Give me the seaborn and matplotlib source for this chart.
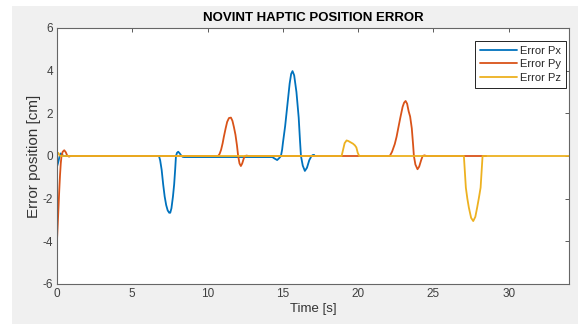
import matplotlib
matplotlib.use("Agg")
import matplotlib.pyplot as plt
from matplotlib.patches import Rectangle
from matplotlib.lines import Line2D
import seaborn as sns
import pandas as pd

# ---- data ----
px_t = [0, 0.08, 0.16, 0.25, 0.35, 0.45,
        6.77, 6.85, 6.95, 7.05, 7.15, 7.25, 7.35, 7.45, 7.52, 7.6, 7.7, 7.78, 7.85, 7.9, 7.97, 8.05, 8.15, 8.25, 8.35, 8.45,
        14.3, 14.45, 14.62, 14.75, 14.87, 14.95, 15.0, 15.15, 15.3, 15.45, 15.55, 15.64, 15.75, 15.9, 16.05, 16.13, 16.2,
        16.32, 16.46, 16.6, 16.75, 16.9, 17.0, 17.08]
px_v = [-0.5, -0.3, -0.05, 0.12, 0.05, 0.0,
        0.0, -0.2, -0.65, -1.33, -1.9, -2.3, -2.55, -2.66, -2.66, -2.45, -1.9, -1.33, -0.6, 0.0, 0.15, 0.2, 0.12, 0.02, -0.04, -0.05,
        -0.05, -0.12, -0.19, -0.1, 0.0, 0.3, 0.6, 1.4, 2.4, 3.4, 3.85, 3.98, 3.78, 3.0, 1.8, 0.8, 0.0,
        -0.45, -0.70, -0.55, -0.2, 0.0, 0.05, 0.05]

py_t = [0, 0.05, 0.1, 0.15, 0.2, 0.25, 0.3, 0.38, 0.48, 0.58, 0.68, 0.8, 0.9,
        10.7, 10.8, 10.9, 11.0, 11.08, 11.2, 11.3, 11.42, 11.55, 11.65, 11.75, 11.85, 11.95, 12.03, 12.12, 12.21, 12.3, 12.4,
        12.48, 12.6, 12.7,
        22.1, 22.25, 22.43, 22.55, 22.66, 22.8, 22.95, 23.05, 23.15, 23.25, 23.35, 23.45, 23.56, 23.65, 23.7, 23.8, 23.94,
        24.05, 24.18, 24.28, 24.4, 24.54, 28.5]
py_v = [-3.95, -3.2, -2.4, -1.6, -0.9, -0.35, 0.0, 0.2, 0.27, 0.18, 0.02, -0.03, 0.0,
        0.0, 0.1, 0.3, 0.6, 0.9, 1.3, 1.6, 1.78, 1.8, 1.65, 1.35, 1.0, 0.5, 0.0, -0.35, -0.47, -0.35, -0.12,
        0.0, 0.02, 0.0,
        0.0, 0.2, 0.56, 0.9, 1.3, 1.8, 2.3, 2.5, 2.58, 2.45, 2.1, 1.85, 1.3, 0.5, 0.0, -0.4, -0.62,
        -0.5, -0.2, 0.0, 0.03, 0.0, 0.0]

pz_t = [0, 0.08, 0.18, 0.25,
        18.9, 19.0, 19.1, 19.23, 19.35, 19.5, 19.65, 19.78, 19.88, 19.97, 20.07,
        27.02, 27.04, 27.15, 27.25, 27.35, 27.5, 27.64, 27.78, 27.9, 28.02, 28.13, 28.24, 28.26, 34]
pz_v = [0.05, 0.15, 0.02, 0.0,
        0.0, 0.3, 0.6, 0.73, 0.7, 0.64, 0.58, 0.5, 0.4, 0.15, 0.0,
        0.0, -0.23, -1.48, -2.0, -2.42, -2.9, -3.05, -2.85, -2.42, -1.95, -1.48, -0.23, 0.0, 0.0]

series_names = ["Error Px", "Error Py", "Error Pz"]
x_ticks = [0, 5, 10, 15, 20, 25, 30]
y_ticks = [-6, -4, -2, 0, 2, 4, 6]
title = "NOVINT HAPTIC POSITION ERROR"
xlabel = "Time [s]"
ylabel = "Error position [cm]"

colors = ["#0072BD", "#D95319", "#EDB120"]

df = pd.concat([
    pd.DataFrame({"t": px_t, "v": px_v, "series": series_names[0]}),
    pd.DataFrame({"t": py_t, "v": py_v, "series": series_names[1]}),
    pd.DataFrame({"t": pz_t, "v": pz_v, "series": series_names[2]}),
], ignore_index=True)

sns.set_theme(style="white")
plt.rcParams["font.family"] = ["Liberation Sans", "DejaVu Sans"]

fig = plt.figure(figsize=(5.78, 3.24), dpi=100, facecolor="white")
fig.add_artist(Rectangle((12 / 578, 0), 1 - 12 / 578, 1 - 6 / 324,
                         transform=fig.transFigure, facecolor="#f0f0f0",
                         edgecolor="none", zorder=-10))
ax = fig.add_axes([57 / 578, (324 - 284) / 324, 512 / 578, 256 / 324])
ax.set_facecolor("white")

for name, c in zip(series_names, colors):
    sns.lineplot(data=df[df["series"] == name], x="t", y="v", ax=ax,
                 color=c, linewidth=1.3, estimator=None, sort=False, legend=False)

ax.set_xlim(0, 34)
ax.set_ylim(-6, 6)
ax.set_xticks(x_ticks)
ax.set_yticks(y_ticks)
ax.set_xticklabels([str(v) for v in x_ticks])
ax.set_yticklabels([str(v) for v in y_ticks])
ax.tick_params(direction="in", length=3, width=0.6, colors="#404040",
               labelsize=8.5, top=True, right=True, pad=3)
for s in ax.spines.values():
    s.set_color("#666666")
    s.set_linewidth(0.8)

ax.set_xlabel(xlabel, fontsize=9.5, color="#333333", labelpad=2)
ax.set_ylabel(ylabel, fontsize=11, color="#333333", labelpad=1)
ax.set_title(title, fontsize=9.5, fontweight="bold", color="black", pad=5)

handles = [Line2D([0], [0], color=c, lw=1.3) for c in colors]
leg = ax.legend(handles, series_names, loc="upper right",
                bbox_to_anchor=((566 - 57) / 512, (284 - 40.5) / 256),
                fontsize=8, handlelength=3.3, handletextpad=0.3,
                borderpad=0.45, labelspacing=0.32, fancybox=False,
                framealpha=1, edgecolor="black", borderaxespad=0)
leg.get_frame().set_linewidth(0.6)

fig.savefig("out.png", dpi=100, facecolor=fig.get_facecolor())
